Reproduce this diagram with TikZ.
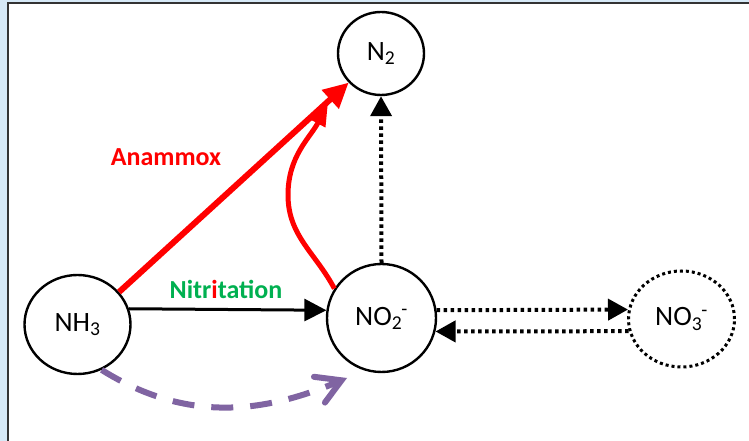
\documentclass[tikz,border=0pt]{standalone}
\usepackage{fontspec}
\setmainfont{Carlito}
\usepackage{tikz}
\usetikzlibrary{arrows.meta, shapes.geometric}
\definecolor{slideblue}{RGB}{214,233,247}
\definecolor{anamred}{RGB}{255,0,0}
\definecolor{nitrgreen}{RGB}{0,176,80}
\definecolor{dnrpurple}{RGB}{128,100,162}

\begin{document}
\begin{tikzpicture}[x=1pt, y=1pt,
    species/.style={ellipse, draw, line width=2.4pt, inner sep=0pt,
      font=\fontsize{28}{30}\selectfont},
    dotlink/.style={line width=4pt, dash pattern=on 3.5pt off 3.5pt,
      -{Triangle[length=20pt, width=21pt]}},
    proclabel/.style={font=\bfseries\fontsize{26}{28}\selectfont},
  ]
    % slide frame
    \useasboundingbox (0,0) rectangle (749,441);
    \fill[slideblue] (0,0) rectangle (749,441);
    \fill[white] (8,-3) rectangle (752,438);
    \draw[black!80, line width=1.6pt] (8,-3) -- (8,438) -- (752,438);

    % nitrogen species
    \node[species, minimum width=106pt, minimum height=99pt] (nh3) at (77.5,116.5) {NH\textsubscript{3}};
    \node[species, minimum width=109pt, minimum height=108pt] (no2) at (381.5,123) {NO\textsubscript{2}\kern-1pt\textsuperscript{-}};
    \node[species, minimum width=86pt, minimum height=83pt] (n2) at (381,387.5) {N\textsubscript{2}};
    \node[species, line width=3pt, dash pattern=on 3pt off 3pt, minimum width=106pt, minimum height=96pt] (no3) at (681.5,122) {NO\textsubscript{3}\kern-1pt\textsuperscript{-}};

    % nitritation
    \draw[line width=3pt, -{Triangle[length=22pt, width=22pt]}] (nh3.17) -- (no2.172);
    \node[proclabel, nitrgreen] (nitrlabel) at (226,152) {Nitr\textcolor{anamred}{i}tation};

    % anammox
    \coordinate (anambend) at (288,246);
    \coordinate (anamtip) at (328,337);
    \draw[anamred, line width=5pt, -{Triangle[length=22pt, width=16pt]}]
      (no2.148) to[out=118, in=-90] (anambend) to[out=90, in=242] (anamtip);
    \draw[anamred, line width=6pt, -{Triangle[length=25pt, width=24pt]}] (nh3.38) -- (n2.222);
    \node[proclabel, anamred] (anamlabel) at (166,284) {Anammox};

    % nitrite <-> nitrate, nitrite -> N2
    \draw[dotlink] (no2.north) -- (n2.south);
    \draw[dotlink] (no2.8) -- (no3.170);
    \draw[dotlink] (no3.193) -- (no2.-14);

    % purple dashed route
    \coordinate (purptip) at (347,63);
    \draw[dnrpurple, line width=6pt, dash pattern=on 22pt off 17pt,
      -{Straight Barb[length=24pt, width=28pt, line cap=round]}] (nh3.-62) to[out=-32, in=203] (purptip);
  \end{tikzpicture}
\end{document}
